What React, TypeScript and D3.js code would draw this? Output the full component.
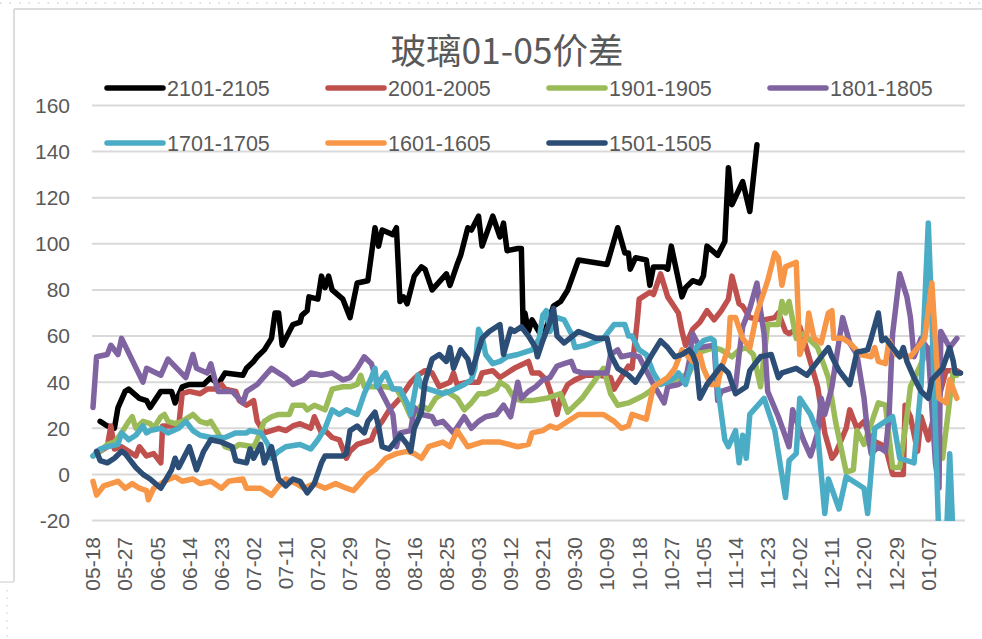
import React from 'react';
import * as d3 from 'd3';

// 玻璃 01-05 spread, seasonal overlay. Points are [days since 05-18, value].
const seriesNames = ['2101-2105', '2001-2005', '1901-1905', '1801-1805', '1701-1705', '1601-1605', '1501-1505'];
const seriesColors = ['#000000', '#C0504D', '#9BBB59', '#8064A2', '#4BACC6', '#F79646', '#2C4D75'];

const s2101: [number, number][] = [[2,23],[4,21],[6,20],[7,29],[9,36],[10,37],[13,33],[15,32],[16,29],[19,36],[22,36],[23,31],[25,38],[27,39],[29,39],[31,39],[33,42],[35,39],[37,44],[42,43],[43,46],[45,49],[46,51],[48,54],[50,59],[51,70],[52,70],[53,56],[56,65],[58,66],[58.5,69],[60,71],[60.5,77],[63,76],[64,86],[65,81],[66,86],[67,80],[70,76],[72,68],[74,83],[77,84],[79,107],[80,99],[81,106],[84,104],[85,107],[86,75],[87,77],[88,74],[90,86],[92,90],[93,89],[95,80],[99,87],[100,82],[102,91],[103,95],[105,107],[106,106],[108,112],[109,99],[112,112],[114,103],[115,109],[116,97],[119,98],[120,98],[120.5,64],[121,70],[122,62],[123,67],[126,59],[129,73],[131,75],[133,80],[136,93],[144,91],[147,107],[149,96],[150,96],[150.5,89],[152,94],[155,93],[156,82],[157,90],[160,90],[161,89],[162,99],[165,77],[166,81],[168,84],[170,83],[171,86],[172,99],[175,95],[177,101],[178,133],[179,117],[182,127],[184,114],[186,143]];
const s2001: [number, number][] = [[2,10],[4,12],[5,21],[6,11],[8,12],[10,10],[12,8],[13,12],[15,8],[17,9],[19,5],[19.5,21],[22,21],[24,21],[25,35],[27,36],[30,35],[32,37],[34,37],[36,39],[37,37],[40,36],[41,32],[43,30],[45,32],[46,23],[48,18],[50,19],[52,20],[54,19],[56,21],[58,22],[61,20],[62,25],[64,18],[65,19],[67,16],[69,15],[71,7],[72,10],[74,13],[76,14],[78,15],[79,19],[81,23],[83,28],[86,33],[89,40],[91,43],[93,45],[95,44],[97,38],[100,40],[101,44],[102,39],[105,40],[108,40],[109,44],[112,45],[114,42],[116,44],[118,46],[122,49],[123,44],[125,44],[127,41],[129,32],[130,26],[131,33],[133,39],[135,41],[138,43],[142,43],[145,42],[146,37],[148,42],[150,47],[151,46],[152.5,67],[153,76],[156,79],[157,78],[159,87],[161,77],[164,70],[165,62],[166,56],[168,63],[170,66],[172,71],[174,67],[176,71],[178,76],[179,86],[181,74],[182,73],[184,68],[188,67],[191,68],[192,70],[194,62],[195,61],[198,64],[200,54],[203,38],[205,18],[207,7],[208,9],[211,20],[212,28],[214,20],[216,23],[218,15],[222,12],[224,0],[227,0],[227.5,30],[229,25],[231,10],[232,25],[234,15],[236,28],[239,45],[242,45],[243,44]];
const s1901: [number, number][] = [[0,8],[2,10],[4,13],[6,14],[8,18],[10,23],[11,25],[12,20],[14,23],[16,22],[17,20],[19,25],[20,26],[21,23],[23,22],[25,23],[28,26],[30,23],[32,22],[33,23],[35,18],[37,12],[39,11],[41,13],[45,12],[46,15],[48,23],[50,25],[52,26],[55,26],[56,30],[59,30],[60,28],[62,30],[65,28],[67,37],[70,38],[72,38],[74,39],[75,43],[76,38],[78,38],[82,38],[85,37],[87,32],[89,25],[90,26],[92,30],[94,28],[96,33],[99,36],[102,33],[104,28],[106,31],[108,35],[110,35],[113,37],[114,40],[116,38],[118,33],[120,32],[123,32],[127,33],[131,35],[133,27],[137,33],[143,46],[145,35],[147,30],[150,31],[154,34],[156,36],[158,39],[163,41],[167,44],[170,53],[174,55],[176,54],[179,51],[181,54],[183,55],[185,52],[187,38],[189,65],[192,65],[193,75],[194,70],[195,75],[197,59],[199,61],[203,55],[206,42],[208,23],[211,1],[213,2],[214,19],[216,13],[220,31],[222,30],[224,3],[226,3],[228,25],[229,38],[232,48],[234,55],[236,30],[238,7],[241,45],[242,43]];
const s1801: [number, number][] = [[0,29],[1,51],[4,52],[5,56],[7,52],[8,59],[14,40],[15,46],[19,43],[21,50],[26,42],[28,52],[29,46],[32,44],[33,48],[35,36],[39,36],[42,31],[43,36],[46,39],[50,46],[54,42],[56,39],[59,41],[61,44],[64,43],[67,44],[70,41],[72,42],[74,46],[76,51],[78,48],[80,38],[82,32],[84,26],[85,12],[86,18],[89,19],[90,29],[92,26],[95,25],[96,22],[98,23],[101,18],[104,25],[106,20],[108,23],[110,25],[113,26],[115,30],[117,25],[119,40],[120,33],[122,36],[124,38],[126,41],[128,42],[130,47],[132,48],[134,49],[135,45],[137,44],[142,44],[144,44],[145,52],[147,54],[148,51],[151,52],[153,51],[157,39],[160,31],[161,38],[164,39],[166,41],[167,49],[168,61],[170,55],[174,56],[175,32],[176,36],[180,38],[181,52],[182,64],[184,72],[186,83],[187,71],[188,61],[189,36],[192,25],[195,12],[196,28],[199,15],[201,8],[203,18],[204,33],[205,26],[207,38],[210,68],[212,57],[214,52],[216,33],[217,18],[218,9],[220,12],[222,10],[223,25],[224,61],[226,87],[228,77],[229,68],[230,51],[232,59],[234,54],[235,29],[236,5],[237,-6],[237.5,62],[240,55],[242,59]];
const s1701: [number, number][] = [[0,8],[2,11],[4,12],[7,13],[8,18],[10,15],[12,17],[14,21],[15,18],[16,19],[19,20],[21,18],[24,20],[26,23],[28,19],[30,17],[33,16],[37,16],[40,18],[43,18],[44,19],[47,18],[49,13],[50,7],[52,10],[54,12],[58,13],[61,11],[63,15],[65,20],[67,28],[69,26],[71,28],[74,26],[76,35],[78,42],[79,46],[79.5,38],[81,42],[82,44],[84,37],[86,37],[88,31],[89,26],[91,43],[92,38],[94,37],[96,36],[98,35],[100,36],[104,39],[106,41],[107,46],[108,63],[109,60],[110,52],[112,48],[114,49],[116,51],[119,52],[121,53],[123,54],[125,59],[126,69],[127,71],[128,62],[130,68],[132,67],[134,61],[135,55],[138,56],[143,59],[146,65],[149,65],[150,60],[151,60],[153,54],[155,52],[157,44],[159,39],[161,40],[163,42],[164,44],[166,39],[169,55],[171,58],[173,59],[174,58],[175,38],[177,15],[178,12],[180,19],[181,5],[182,17],[183,7],[184,26],[188,33],[191,19],[194,-10],[195,6],[197,9],[198,33],[201,26],[203,18],[205,-17],[206,-2],[209,-15],[211,-1],[216,-6],[217,-17],[219,20],[222,23],[224,25],[226,7],[230,5],[232,39],[234,109],[235,68],[237,-30],[239,-30],[240,9],[241,-30]];
const s1601: [number, number][] = [[0,-3],[1,-9],[3,-5],[5,-4],[7,-3],[9,-6],[11,-4],[13,-6],[15,-7],[15.5,-11],[17,-6],[20,-3],[23,-1],[25,-3],[28,-2],[30,-4],[33,-3],[36,-6],[38,-3],[42,-2],[43,-6],[47,-6],[50,-9],[52,-5],[54,-2],[57,-4],[59,-6],[62,-4],[65,-6],[68,-4],[71,-6],[73,-7],[77,0],[79,2],[82,7],[85,9],[88,10],[90,9],[92,7],[94,12],[98,14],[100,12],[102,19],[105,12],[109,14],[114,14],[119,12],[122,13],[123,18],[126,19],[128,21],[130,20],[134,24],[136,26],[143,26],[146,23],[148,20],[150,21],[151,26],[155,24],[157,38],[161,42],[163,46],[165,54],[168,49],[170,52],[171,46],[173,39],[175,39],[176,46],[178,55],[178.5,68],[180,68],[182,59],[184,55],[186,70],[189,84],[191,96],[192,94],[193,82],[194,90],[197,92],[198,52],[200,61],[200.5,70],[202,59],[204,57],[206,70],[207,71],[207.5,59],[210,59],[212,57],[215,52],[218,51],[219,55],[220,49],[222,48],[223,58],[225,52],[229,51],[231,55],[233,59],[235,83],[236,58],[237,33],[239,31],[240,41],[242,33]];
const s1501: [number, number][] = [[1,10],[2,6],[4,5],[6,7],[8,10],[9,9],[12,3],[14,0],[16,-2],[19,-6],[22,2],[23,7],[24,3],[27,12],[29,2],[31,10],[33,15],[36,14],[39,12],[40,6],[43,5],[44,11],[45,7],[47,13],[48,5],[50,12],[52,-2],[54,-5],[56,-2],[58,-3],[60,-8],[62,-4],[64,5],[65,8],[70,8],[71,9],[72,19],[74,21],[76,18],[77,23],[78,25],[79,27],[80,21],[81,12],[83,11],[86,17],[88,13],[89,10],[90,20],[92,27],[93,40],[95,50],[97,52],[99,49],[100,55],[101,46],[103,54],[105,50],[106,44],[109,59],[111,62],[114,65],[115,52],[117,63],[118,62],[120,64],[122,60],[124,55],[124.5,51],[126,58],[128,66],[129,72],[130,60],[132,57],[136,62],[141,59],[144,59],[145,52],[147,46],[150,43],[152,40],[154,45],[157,53],[159,58],[161,55],[163,51],[165,52],[167,54],[168,52],[169,48],[170,33],[172,39],[176,47],[178,44],[180,35],[183,38],[184,45],[187,51],[190,52],[192,42],[193,44],[197,46],[200,43],[203,49],[206,55],[207,51],[209,45],[212,39],[213,46],[214,53],[217,54],[218,59],[220,70],[221,58],[222,59],[224,55],[226,51],[227,55],[228,49],[230,42],[232,36],[234,33],[235,41],[238,46],[240,55],[241,49],[241.5,44],[243,44]];

const seriesData = [s2101, s2001, s1901, s1801, s1701, s1601, s1501];

const yTicks = [-20, 0, 20, 40, 60, 80, 100, 120, 140, 160];
const xTickLabels = ['05-18', '05-27', '06-05', '06-14', '06-23', '07-02', '07-11', '07-20', '07-29', '08-07', '08-16', '08-25', '09-03', '09-12', '09-21', '09-30', '10-09', '10-18', '10-27', '11-05', '11-14', '11-23', '12-02', '12-11', '12-20', '12-29', '01-07'];

const W = 982;
const H = 639;
const DAY = 864e5;
const base = Date.UTC(2020, 4, 18);
const toDate = (d: number) => new Date(base + d * DAY);
const labelDate = (s: string) => {
  const [m, d] = s.split('-').map(Number);
  return new Date(Date.UTC(m < 5 ? 2021 : 2020, m - 1, d));
};

const FONT = '"Liberation Sans", Arial, sans-serif';
const TEXT = '#595959';

export default function App() {
  const plot = { left: 92, right: 965, top: 105.5, bottom: 520.5 };

  const x = d3.scaleUtc()
    .domain([toDate(0), toDate(244)])
    .range([93, 964]);
  const y = d3.scaleLinear()
    .domain([-20, 160])
    .range([plot.bottom, plot.top]);

  const line = d3.line<[number, number]>()
    .x(d => x(toDate(d[0])))
    .y(d => y(d[1]));

  const legendRows = [0, 0, 0, 0, 1, 1, 1];
  const legendCols = [0, 1, 2, 3, 0, 1, 2];

  return (
    <svg width={W} height={H} style={{ position: 'absolute', left: 0, top: 0, background: '#fff' }}>
      <defs>
        <clipPath id="plotClip">
          <rect x={plot.left - 4} y={60} width={plot.right - plot.left + 8} height={plot.bottom - 60 + 0.5} />
        </clipPath>
      </defs>

      {/* spreadsheet frame bits */}
      <line x1={0} x2={W} y1={3} y2={3} stroke="#bdbdbd" strokeWidth={1} strokeDasharray="1.5,8" />
      <line x1={14} x2={W} y1={9} y2={9} stroke="#dcdcdc" strokeWidth={2} />
      <line x1={14} x2={14} y1={9} y2={582} stroke="#dcdcdc" strokeWidth={2} />
      <line x1={0} x2={14} y1={582} y2={582} stroke="#dcdcdc" strokeWidth={1.5} />
      <line x1={7} x2={7} y1={590} y2={H} stroke="#c8c8c8" strokeWidth={1} strokeDasharray="1.5,6" />

      {/* title */}
      <text x={507} y={64} textAnchor="middle" fontSize={35.5} fill={TEXT}
        fontFamily='"Noto Sans CJK SC", "Liberation Sans", sans-serif'>玻璃01-05价差</text>

      {/* gridlines + y labels */}
      {yTicks.map(t => (
        <g key={t}>
          <line x1={plot.left} x2={plot.right} y1={y(t)} y2={y(t)} stroke="#d9d9d9" strokeWidth={2} />
          <text x={70} y={y(t)} dy="0.35em" textAnchor="end" fontSize={21} fill={TEXT} fontFamily={FONT}>{t}</text>
        </g>
      ))}

      {/* x labels */}
      {xTickLabels.map(l => (
        <text key={l} transform={`translate(${x(labelDate(l))},537) rotate(-90)`} dy="0.35em"
          textAnchor="end" fontSize={21} fill={TEXT} fontFamily={FONT}>{l}</text>
      ))}

      {/* series */}
      <g clipPath="url(#plotClip)">
        {seriesData.map((s, i) => (
          <path key={seriesNames[i]} d={line(s) || ''} fill="none" stroke={seriesColors[i]}
            strokeWidth={5.5} strokeLinejoin="round" strokeLinecap="round" />
        ))}
      </g>

      {/* legend */}
      {seriesNames.map((n, i) => {
        const lx = 107 + legendCols[i] * 221;
        const ly = 88 + legendRows[i] * 55;
        return (
          <g key={n}>
            <line x1={lx} x2={lx + 56} y1={ly} y2={ly} stroke={seriesColors[i]} strokeWidth={5.5} strokeLinecap="round" />
            <text x={lx + 60} y={ly} dy="0.35em" fontSize={21.5} fill={TEXT} fontFamily={FONT}>{n}</text>
          </g>
        );
      })}
    </svg>
  );
}
